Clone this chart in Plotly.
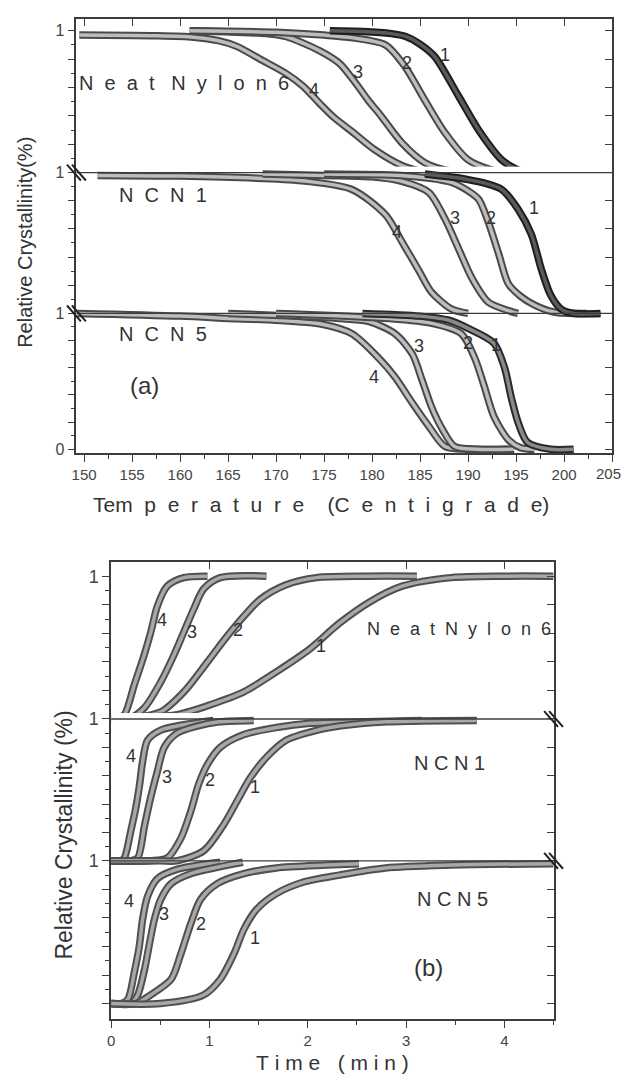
import plotly.graph_objects as go

W, H = 623, 1081
NB = "\u00a0"

# ---------------- Panel (a): relative crystallinity vs temperature ----------------
neat_1_T = [175.6, 179, 182, 183.5, 184.9, 186.5, 189, 191.1, 193.5, 195.5, 197, 199.3]
neat_1_v = [1.0, 0.995, 0.98, 0.96, 0.91, 0.82, 0.54, 0.30, 0.09, 0.01, 0.0, 0.0]
neat_2_T = [161, 170, 175, 178, 181.4, 183.4, 185.5, 187.6, 190, 192.4, 194, 196.9]
neat_2_v = [1.0, 0.99, 0.97, 0.95, 0.90, 0.75, 0.51, 0.28, 0.09, 0.02, 0.0, 0.0]
neat_3_T = [161, 166, 169, 171, 174.5, 176.6, 178.3, 179.7, 180.7, 183.1, 185.5, 188.3, 191]
neat_3_v = [1.0, 0.99, 0.98, 0.96, 0.86, 0.77, 0.63, 0.50, 0.42, 0.21, 0.07, 0.01, 0.0]
neat_4_T = [149.5, 157, 161.4, 164, 165.9, 168.6, 171, 172.8, 174.5, 176, 177.9, 180.3, 183.1, 185, 186]
neat_4_v = [0.97, 0.965, 0.955, 0.93, 0.89, 0.79, 0.70, 0.61, 0.49, 0.39, 0.29, 0.16, 0.05, 0.01, 0.0]

ncn1_1_T = [185.5, 188, 190, 192, 193.5, 195.2, 196.6, 197.6, 198.6, 199.7, 201, 203.8]
ncn1_1_v = [0.99, 0.97, 0.95, 0.92, 0.88, 0.74, 0.56, 0.32, 0.13, 0.03, 0.0, 0.0]
ncn1_2_T = [175, 183, 186, 188.3, 190, 191.1, 192.1, 193.2, 194.2, 195.5, 196.9, 198.9, 202.4]
ncn1_2_v = [0.99, 0.98, 0.96, 0.93, 0.87, 0.81, 0.65, 0.42, 0.21, 0.12, 0.06, 0.01, 0.0]
ncn1_3_T = [168.6, 175, 180, 183, 185.9, 187.6, 189, 190.4, 192.1, 194.2, 195.2]
ncn1_3_v = [0.99, 0.98, 0.97, 0.94, 0.86, 0.67, 0.46, 0.25, 0.08, 0.02, 0.0]
ncn1_4_T = [151.4, 160, 168, 173, 177.9, 181.4, 183.1, 184.9, 186.2, 188.3, 190]
ncn1_4_v = [0.98, 0.975, 0.96, 0.94, 0.88, 0.70, 0.51, 0.30, 0.15, 0.03, 0.0]

ncn5_1_T = [179, 185, 188, 190, 192.7, 193.8, 194.5, 195.2, 196.2, 198.6, 201]
ncn5_1_v = [1.0, 0.98, 0.95, 0.89, 0.78, 0.60, 0.38, 0.20, 0.05, 0.0, 0.0]
ncn5_2_T = [170, 180, 186, 189.3, 190.7, 191.7, 192.7, 194.2, 195.5, 196.9]
ncn5_2_v = [1.0, 0.97, 0.93, 0.85, 0.67, 0.46, 0.24, 0.07, 0.01, 0.0]
ncn5_3_T = [165, 172, 177, 179.7, 182.4, 184.2, 185.2, 186.2, 187.3, 188.6, 191, 194.8]
ncn5_3_v = [1.0, 0.98, 0.96, 0.94, 0.85, 0.70, 0.51, 0.31, 0.15, 0.02, 0.0, 0.0]
ncn5_4_T = [149.3, 160, 165.9, 170, 174.8, 177.9, 180.7, 182.4, 184.2, 185.9, 187.6, 190, 194.2]
ncn5_4_v = [1.0, 0.98, 0.96, 0.95, 0.92, 0.85, 0.67, 0.53, 0.34, 0.17, 0.02, 0.0, 0.0]

# ---------------- Panel (b): relative crystallinity vs time ----------------
b_neat_1_t = [0, 0.3, 0.67, 1.01, 1.35, 1.68, 2.02, 2.32, 2.63, 2.96, 3.46, 4.0, 4.5]
b_neat_1_v = [0.0, 0.01, 0.03, 0.10, 0.19, 0.33, 0.49, 0.67, 0.82, 0.93, 0.99, 1.0, 1.0]
b_neat_2_t = [0, 0.25, 0.505, 0.74, 0.98, 1.18, 1.35, 1.52, 1.78, 2.09, 2.6, 3.11]
b_neat_2_v = [0.0, 0.01, 0.05, 0.19, 0.40, 0.58, 0.72, 0.84, 0.94, 0.99, 1.0, 1.0]
b_neat_3_t = [0, 0.2, 0.34, 0.505, 0.64, 0.74, 0.84, 0.94, 1.11, 1.58]
b_neat_3_v = [0.0, 0.01, 0.08, 0.26, 0.45, 0.61, 0.77, 0.91, 0.99, 1.0]
b_neat_4_t = [0, 0.08, 0.135, 0.236, 0.337, 0.404, 0.47, 0.57, 0.74, 0.98]
b_neat_4_v = [0.01, 0.01, 0.03, 0.24, 0.45, 0.61, 0.79, 0.93, 0.99, 1.0]

b_ncn1_1_t = [0, 0.5, 0.67, 0.94, 1.14, 1.28, 1.41, 1.58, 1.78, 2.09, 2.32, 2.8, 3.72]
b_ncn1_1_v = [0.0, 0.0, 0.0, 0.07, 0.25, 0.42, 0.58, 0.73, 0.85, 0.92, 0.95, 0.98, 0.99]
b_ncn1_2_t = [0, 0.4, 0.57, 0.71, 0.81, 0.89, 0.98, 1.11, 1.35, 1.68, 2.02, 2.6, 3.16]
b_ncn1_2_v = [0.0, 0.0, 0.02, 0.16, 0.35, 0.54, 0.68, 0.80, 0.89, 0.94, 0.97, 0.98, 0.99]
b_ncn1_3_t = [0, 0.2, 0.27, 0.34, 0.40, 0.47, 0.54, 0.67, 0.875, 1.1, 1.45]
b_ncn1_3_v = [0.0, 0.0, 0.02, 0.25, 0.44, 0.63, 0.80, 0.90, 0.95, 0.98, 0.99]
b_ncn1_4_t = [0, 0.1, 0.135, 0.20, 0.25, 0.29, 0.32, 0.37, 0.5, 0.74, 1.04]
b_ncn1_4_v = [0.0, 0.0, 0.02, 0.21, 0.37, 0.54, 0.70, 0.85, 0.92, 0.96, 0.99]

b_ncn5_1_t = [0, 0.5, 0.94, 1.11, 1.25, 1.35, 1.48, 1.68, 1.95, 2.32, 2.79, 3.46, 4.5]
b_ncn5_1_v = [0.0, 0.0, 0.06, 0.17, 0.35, 0.52, 0.66, 0.77, 0.85, 0.90, 0.95, 0.97, 0.98]
b_ncn5_2_t = [0, 0.25, 0.40, 0.61, 0.71, 0.81, 0.91, 1.08, 1.35, 1.68, 2.19, 2.52]
b_ncn5_2_v = [0.0, 0.0, 0.06, 0.17, 0.35, 0.56, 0.73, 0.84, 0.91, 0.95, 0.97, 0.98]
b_ncn5_3_t = [0, 0.2, 0.27, 0.34, 0.39, 0.44, 0.505, 0.61, 0.81, 1.34]
b_ncn5_3_v = [0.0, 0.0, 0.06, 0.24, 0.42, 0.59, 0.73, 0.84, 0.91, 0.99]
b_ncn5_4_t = [0, 0.1, 0.17, 0.236, 0.286, 0.32, 0.37, 0.47, 0.67, 1.11]
b_ncn5_4_v = [0.0, 0.0, 0.03, 0.22, 0.40, 0.59, 0.75, 0.875, 0.94, 0.99]

x_ticks_a = [150, 155, 160, 165, 170, 175, 180, 185, 190, 195, 200, 205]
x_text_a = ["150", "155", "160", "165", "170", "175", "180", "185", "190", "195", "200", ""]
x_ticks_b = [0, 1, 2, 3, 4]
y_ticks = [0, 0.2, 0.4, 0.6, 0.8, 1.0]

FONT = "Liberation Sans, Arial, sans-serif"
AX = "#3c3c3c"
TXT = "#333333"

fig = go.Figure()


def px_x(p):
    return p / W


def px_y(p):
    return 1 - p / H


def ydomain(pt, pb):
    return [1 - pb / H, 1 - pt / H]


def yrange(p1, p0, pt, pb):
    k = p0 - p1
    return [(p0 - pb) / k, (p0 - pt) / k]


def band(x, y, xa, ya, dark=False, outer="#4a4a4a", inner="#bdbdbd"):
    if dark:
        outer, inner = "#1e1e1e", "#5a5a5a"
    fig.add_trace(go.Scatter(x=x, y=y, xaxis=xa, yaxis=ya, mode="lines",
                             line=dict(color=outer, width=7.5, shape="spline", smoothing=0.8),
                             hoverinfo="skip", showlegend=False))
    fig.add_trace(go.Scatter(x=x, y=y, xaxis=xa, yaxis=ya, mode="lines",
                             line=dict(color=inner, width=3.5, shape="spline", smoothing=0.8),
                             hoverinfo="skip", showlegend=False))


# panel (a) traces: y (top, Neat), y2 (NCN1), y3 (NCN5), x
band(neat_4_T, neat_4_v, "x", "y")
band(neat_3_T, neat_3_v, "x", "y")
band(neat_2_T, neat_2_v, "x", "y")
band(neat_1_T, neat_1_v, "x", "y", dark=True)
band(ncn1_4_T, ncn1_4_v, "x", "y2")
band(ncn1_3_T, ncn1_3_v, "x", "y2")
band(ncn1_2_T, ncn1_2_v, "x", "y2")
band(ncn1_1_T, ncn1_1_v, "x", "y2", dark=True)
band(ncn5_4_T, ncn5_4_v, "x", "y3")
band(ncn5_3_T, ncn5_3_v, "x", "y3")
band(ncn5_2_T, ncn5_2_v, "x", "y3")
band(ncn5_1_T, ncn5_1_v, "x", "y3", outer="#2a2a2a", inner="#8a8a8a")

# panel (b) traces: y4 (Neat), y5 (NCN1), y6 (NCN5), x2
for tt, vv in [(b_neat_4_t, b_neat_4_v), (b_neat_3_t, b_neat_3_v), (b_neat_2_t, b_neat_2_v), (b_neat_1_t, b_neat_1_v)]:
    band(tt, vv, "x2", "y4", outer="#505050", inner="#a8a8a8")
for tt, vv in [(b_ncn1_4_t, b_ncn1_4_v), (b_ncn1_3_t, b_ncn1_3_v), (b_ncn1_2_t, b_ncn1_2_v), (b_ncn1_1_t, b_ncn1_1_v)]:
    band(tt, vv, "x2", "y5", outer="#505050", inner="#a8a8a8")
for tt, vv in [(b_ncn5_4_t, b_ncn5_4_v), (b_ncn5_3_t, b_ncn5_3_v), (b_ncn5_2_t, b_ncn5_2_v), (b_ncn5_1_t, b_ncn5_1_v)]:
    band(tt, vv, "x2", "y6", outer="#505050", inner="#a8a8a8")

# empty traces so the mirrored (frame) axes get drawn
for xa, ya in [("x3", "y"), ("x4", "y4"), ("x", "y7"), ("x", "y8"), ("x", "y9"),
               ("x2", "y10"), ("x2", "y11"), ("x2", "y12")]:
    fig.add_trace(go.Scatter(x=[], y=[], xaxis=xa, yaxis=ya, showlegend=False))

lay = dict(width=W, height=H, margin=dict(l=0, r=0, t=0, b=0),
           paper_bgcolor="white", plot_bgcolor="white", showlegend=False,
           font=dict(family=FONT, color=TXT))

xa_dom = [px_x(72), px_x(612)]
xb_dom = [px_x(107), px_x(553)]
xr_a = [149.2, 205.0]
xr_b = [0, 4.5]

common_x = dict(showgrid=False, zeroline=False, showline=True, linecolor=AX, linewidth=1.5,
                tickcolor=AX, tickwidth=1.2)
lay["xaxis"] = dict(common_x, domain=xa_dom, range=xr_a, anchor="y3", tickvals=x_ticks_a,
                    ticktext=x_text_a,
                    ticks="outside", ticklen=7, tickfont=dict(size=15, color="#444"),
                    minor=dict(dtick=2.5, tick0=150, ticks="outside", ticklen=4, tickcolor=AX))
lay["xaxis3"] = dict(common_x, domain=xa_dom, range=xr_a, anchor="y", overlaying="x", side="top",
                     tickvals=x_ticks_a, ticks="inside", ticklen=7, showticklabels=False, matches="x")
lay["xaxis2"] = dict(common_x, domain=xb_dom, range=xr_b, anchor="y6", tickvals=x_ticks_b,
                     ticks="outside", ticklen=7, tickfont=dict(size=15, color="#444"),
                     minor=dict(dtick=0.5, tick0=0, ticks="outside", ticklen=4, tickcolor=AX))
lay["xaxis4"] = dict(common_x, domain=xb_dom, range=xr_b, anchor="y4", overlaying="x2", side="top",
                     tickvals=x_ticks_b, ticks="inside", ticklen=7, showticklabels=False, matches="x2")

# (p1 = pixel of value 1, p0 = pixel of value 0, pt/pb = top/bottom pixel of the strip)
strips = {
    "yaxis": (27, 170, 15, 176, "x", ["", "", "", "", "", "1"], 16),
    "yaxis2": (170, 312, 164, 318, "x", ["", "", "", "", "", "1"], 16),
    "yaxis3": (312, 449, 306, 453, "x", ["0", "", "", "", "", "1"], 16),
    "yaxis4": (577, 721, 563, 727, "x2", ["", "", "", "", "", "1"], 18),
    "yaxis5": (721, 864, 715, 870, "x2", ["", "", "", "", "", "1"], 18),
    "yaxis6": (864, 1008, 858, 1024, "x2", ["", "", "", "", "", "1"], 18),
}
right_ids = {"yaxis": "yaxis7", "yaxis2": "yaxis8", "yaxis3": "yaxis9",
             "yaxis4": "yaxis10", "yaxis5": "yaxis11", "yaxis6": "yaxis12"}
for name, (p1, p0, pt, pb, xa, txt, fs) in strips.items():
    dom = ydomain(pt, pb)
    rng = yrange(p1, p0, pt, pb)
    lay[name] = dict(domain=dom, range=rng, anchor=xa, showgrid=False, zeroline=False,
                     showline=True, linecolor=AX, linewidth=1.5,
                     tickvals=y_ticks, ticktext=txt, ticks="outside", ticklen=7,
                     tickcolor=AX, tickwidth=1.2, tickfont=dict(size=fs, color="#444"),
                     minor=dict(tickvals=[0.1, 0.3, 0.5, 0.7, 0.9], ticks="outside",
                                ticklen=4, tickcolor=AX))
    base = "y" if name == "yaxis" else "y" + name[5:]
    lay[right_ids[name]] = dict(domain=dom, range=rng, anchor=xa, overlaying=base, side="right",
                                matches=base, showgrid=False, zeroline=False, showline=True,
                                linecolor=AX, linewidth=1.5, tickvals=y_ticks, ticks="inside",
                                ticklen=7, tickcolor=AX, tickwidth=1.2, showticklabels=False)

fig.update_layout(**lay)

# separator (break) lines at the zero level of the upper strips
shapes = []
for ya, xa in [("y", "x"), ("y2", "x"), ("y4", "x2"), ("y5", "x2")]:
    shapes.append(dict(type="line", xref=xa + " domain", x0=0, x1=1, yref=ya, y0=0, y1=0,
                       line=dict(color=AX, width=1.3)))
# break marks
def brk(xp, yp):
    for dx in (-2.5, 2.5):
        shapes.append(dict(type="line", xref="paper", yref="paper",
                           x0=px_x(xp + dx - 7), y0=px_y(yp - 8),
                           x1=px_x(xp + dx + 7), y1=px_y(yp + 8),
                           line=dict(color="#222", width=2)))
brk(72, 170)
brk(72, 312)
brk(553, 721)
brk(553, 864)
fig.update_layout(shapes=shapes)

ann = []
def lab(text, x, y, xa, ya, size=18, xanchor="center"):
    ann.append(dict(text=text, x=x, y=y, xref=xa, yref=ya, showarrow=False,
                    font=dict(size=size, color=TXT, family=FONT), xanchor=xanchor,
                    yanchor="middle"))

# curve numbers, panel (a)
lab("1", 187.6, 0.83, "x", "y"); lab("2", 183.6, 0.77, "x", "y")
lab("3", 178.5, 0.71, "x", "y"); lab("4", 174.0, 0.58, "x", "y")
lab("1", 196.9, 0.75, "x", "y2"); lab("2", 192.4, 0.68, "x", "y2")
lab("3", 188.6, 0.68, "x", "y2"); lab("4", 182.6, 0.58, "x", "y2")
lab("1", 192.9, 0.77, "x", "y3"); lab("2", 190.0, 0.78, "x", "y3")
lab("3", 184.9, 0.76, "x", "y3"); lab("4", 180.2, 0.53, "x", "y3")
lab((NB * 2).join("Neat") + NB * 3 + (NB * 2).join("Nylon6"), 149.3, 0.63, "x", "y", size=20, xanchor="left")
lab((NB * 2).join("NCN1"), 153.4, 0.84, "x", "y2", size=20, xanchor="left")
lab((NB * 2).join("NCN5"), 153.4, 0.85, "x", "y3", size=20, xanchor="left")
lab("(a)", 156.3, 0.47, "x", "y3", size=24)

# curve numbers, panel (b)
lab("4", 0.52, 0.69, "x2", "y4"); lab("3", 0.82, 0.61, "x2", "y4")
lab("2", 1.29, 0.62, "x2", "y4"); lab("1", 2.13, 0.51, "x2", "y4")
lab("4", 0.20, 0.74, "x2", "y5"); lab("3", 0.57, 0.59, "x2", "y5")
lab("2", 1.01, 0.57, "x2", "y5"); lab("1", 1.46, 0.52, "x2", "y5")
lab("4", 0.18, 0.72, "x2", "y6"); lab("3", 0.54, 0.625, "x2", "y6")
lab("2", 0.91, 0.56, "x2", "y6"); lab("1", 1.46, 0.46, "x2", "y6")
lab((NB * 2).join("NeatNylon6"), 2.58, 0.63, "x2", "y4", size=18, xanchor="left")
lab(NB.join("NCN1"), 3.06, 0.69, "x2", "y5", size=20, xanchor="left")
lab(NB.join("NCN5"), 3.09, 0.73, "x2", "y6", size=20, xanchor="left")
lab("(b)", 3.23, 0.25, "x2", "y6", size=24)

# last temperature tick label, kept inside the page edge
ann.append(dict(text="205", x=1.0, y=px_y(473), xref="paper", yref="paper", showarrow=False,
                xanchor="right", yanchor="middle", font=dict(size=15, color="#444", family=FONT)))

# axis titles
ann.append(dict(text="Tem" + NB * 2 + (NB * 2).join("perature") + NB * 4 + "(" + (NB * 2).join("Centigrade") + ")",
                x=px_x(319), y=px_y(505), xref="paper", yref="paper", showarrow=False,
                xanchor="center", yanchor="middle",
                font=dict(size=21, color=TXT, family=FONT)))
ann.append(dict(text="Relative Crystallinity(%)", x=px_x(20), y=px_y(240), xref="paper", yref="paper",
                showarrow=False, textangle=-90, xanchor="center", yanchor="middle",
                font=dict(size=20, color=TXT, family=FONT)))
ann.append(dict(text=NB.join("Time") + NB * 3 + NB.join("(min)"),
                x=px_x(330), y=0.0, xref="paper", yref="paper", showarrow=False,
                xanchor="center", yanchor="bottom",
                font=dict(size=21, color=TXT, family=FONT)))
ann.append(dict(text="Relative Crystallinity (%)", x=px_x(60), y=px_y(838), xref="paper", yref="paper",
                showarrow=False, textangle=-90, xanchor="center", yanchor="middle",
                font=dict(size=23, color=TXT, family=FONT)))
fig.update_layout(annotations=ann)

fig.write_html("out.html")
